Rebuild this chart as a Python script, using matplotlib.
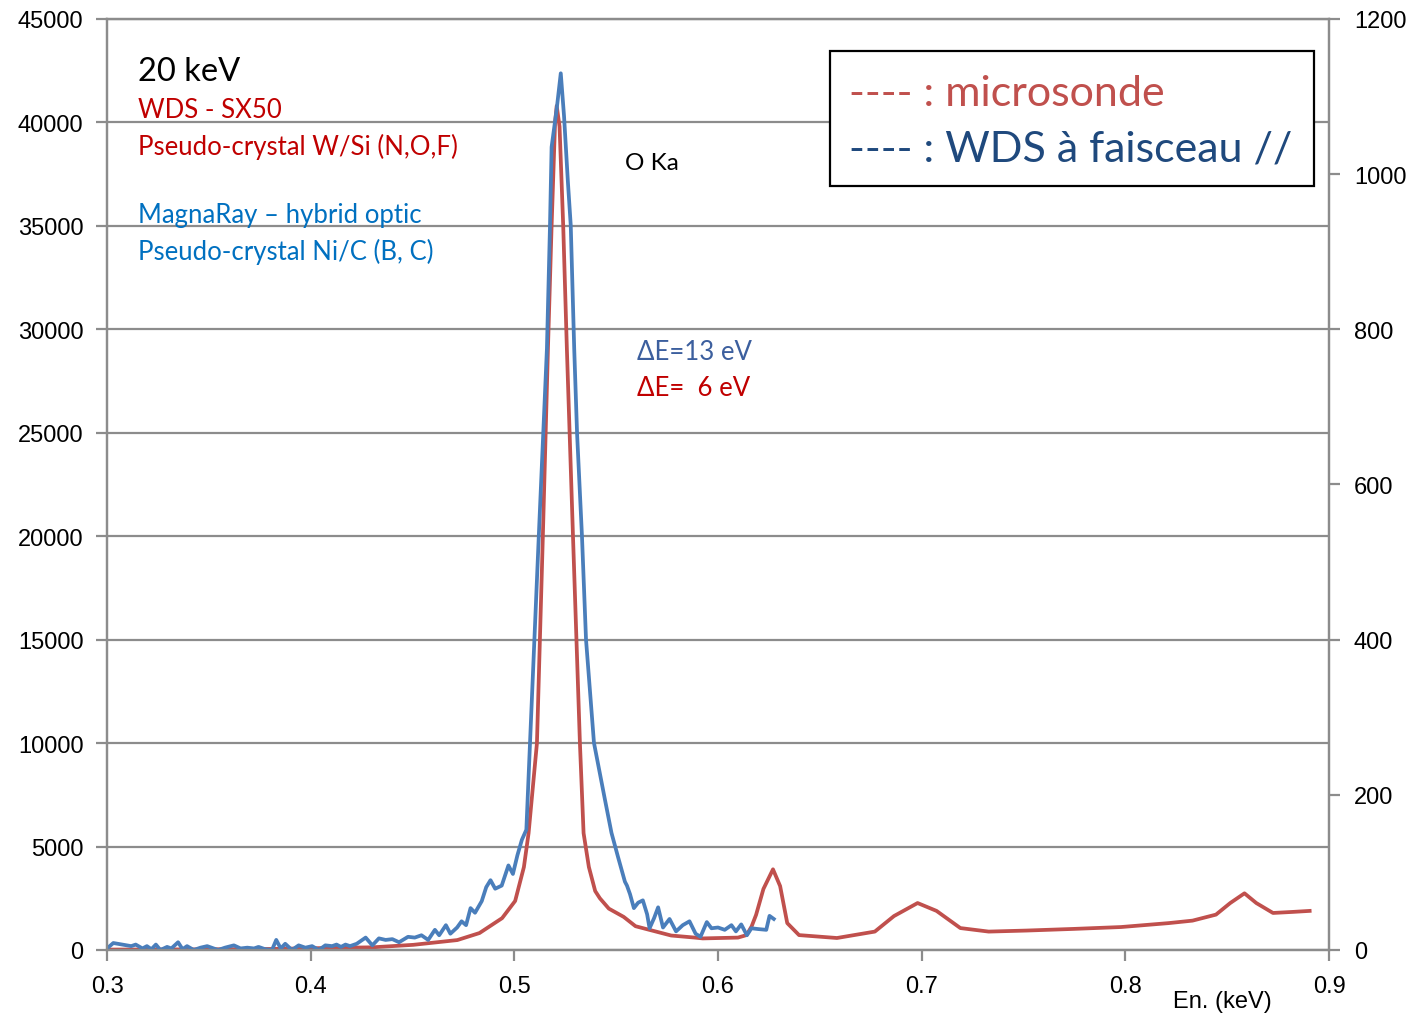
import matplotlib
matplotlib.use("Agg")
import matplotlib.pyplot as plt

# red curve: microsonde WDS SX50 (left axis, counts)
red_kev = [0.300, 0.340, 0.380, 0.410, 0.4305, 0.4504, 0.472, 0.4829, 0.494, 0.5004,
           0.5047, 0.507, 0.5111, 0.514, 0.5165, 0.5183, 0.5200, 0.5208, 0.5222, 0.524,
           0.5258, 0.5288, 0.5322, 0.5340, 0.5366, 0.5397, 0.5420, 0.5464, 0.5537, 0.5595,
           0.5653, 0.577, 0.5886, 0.5925, 0.6098, 0.614, 0.6165, 0.6187, 0.6223, 0.627,
           0.6305, 0.634, 0.6398, 0.6584, 0.677, 0.6864, 0.698, 0.7073, 0.719, 0.7329,
           0.7515, 0.7748, 0.7979, 0.8213, 0.833, 0.8445, 0.8515, 0.8585, 0.8643, 0.8725,
           0.882, 0.8905]
red_cts = [20, 30, 50, 100, 130, 250, 480, 820, 1540, 2370,
           4010, 5650, 10000, 20000, 29050, 35000, 40000, 40800, 39800, 35000,
           29050, 20000, 10000, 5650, 4010, 2850, 2500, 2000, 1600, 1150,
           1000, 700, 600, 560, 600, 720, 1140, 1700, 2950, 3900,
           3090, 1300, 720, 580, 890, 1640, 2270, 1890, 1060, 890,
           940, 1020, 1110, 1300, 1420, 1710, 2270, 2740, 2270, 1790,
           1840, 1890]

# blue curve: MagnaRay parallel beam WDS (right axis, counts)
blue_kev = [0.3000, 0.3031, 0.3075, 0.3119, 0.3141, 0.3174, 0.3196, 0.3218, 0.3240, 0.3262,
            0.3295, 0.3316, 0.3349, 0.3371, 0.3393, 0.3426, 0.3459, 0.3492, 0.3524, 0.3546,
            0.3579, 0.3623, 0.3656, 0.3689, 0.3722, 0.3744, 0.3777, 0.3810, 0.3831, 0.3853,
            0.3875, 0.3908, 0.3941, 0.3974, 0.4007, 0.4040, 0.4072, 0.4105, 0.4127, 0.4149,
            0.4171, 0.4193, 0.4226, 0.4270, 0.4303, 0.4335, 0.4368, 0.4401, 0.4434, 0.4478,
            0.4511, 0.4544, 0.4577, 0.4610, 0.4631, 0.4664, 0.4686, 0.4719, 0.4741, 0.4763,
            0.4785, 0.4807, 0.4840, 0.4862, 0.4883, 0.4906, 0.4938, 0.4971, 0.4993, 0.5015,
            0.5037, 0.5059, 0.5077, 0.5120, 0.5160, 0.5175, 0.5183, 0.5208, 0.5228, 0.5244,
            0.5263, 0.5277, 0.5294, 0.5308, 0.5332, 0.5352, 0.5391, 0.5444, 0.5477, 0.5509,
            0.5543, 0.5553, 0.5568, 0.5587, 0.5608, 0.5631, 0.5652, 0.5664, 0.5686, 0.5706,
            0.5730, 0.5762, 0.5794, 0.5827, 0.5860, 0.5890, 0.5914, 0.5945, 0.5968, 0.6000,
            0.6033, 0.6066, 0.6088, 0.6114, 0.6142, 0.6164, 0.6197, 0.6237, 0.6253, 0.6274]
blue_cts = [2, 9, 7, 5, 7, 2, 5, 1, 7, 0,
            4, 2, 10, 1, 5, 0, 3, 5, 2, 0,
            3, 6, 2, 3, 2, 4, 1, 0, 13, 2,
            8, 0, 6, 3, 5, 0, 6, 5, 7, 4,
            7, 5, 8, 16, 6, 15, 13, 14, 10, 17,
            16, 19, 13, 26, 19, 32, 21, 29, 37, 32,
            54, 48, 63, 81, 90, 79, 83, 109, 98, 122,
            142, 155, 267, 533, 775, 933, 1035, 1084, 1130, 1075,
            990, 934, 775, 666, 534, 400, 267, 195, 151, 120,
            88, 83, 72, 54, 61, 64, 46, 28, 41, 55,
            29, 40, 24, 32, 37, 21, 17, 36, 28, 29,
            26, 32, 24, 33, 19, 28, 27, 26, 44, 40]

left_ticks = [0, 5000, 10000, 15000, 20000, 25000, 30000, 35000, 40000, 45000]
right_ticks = [0, 200, 400, 600, 800, 1000, 1200]
x_ticks = [0.3, 0.4, 0.5, 0.6, 0.7, 0.8, 0.9]

W, H = 1413, 1020
fig = plt.figure(figsize=(W / 100, H / 100), dpi=100)
ax = fig.add_axes([107 / W, 1 - 951 / H, (1329 - 107) / W, (951 - 20) / H])
ax2 = ax.twinx()

grey = "#8c8c8c"
ax.plot(red_kev, red_cts, color="#c0504d", lw=2.7, solid_joinstyle="round")
ax2.plot(blue_kev, blue_cts, color="#4a7ebb", lw=2.7, solid_joinstyle="round")

ax.set_xlim(0.3, 0.9)
ax.set_ylim(0, 45000)
ax2.set_ylim(0, 1200)
ax.set_xticks(x_ticks)
ax.set_xticklabels([str(t) for t in x_ticks])
ax.set_yticks(left_ticks)
ax2.set_yticks(right_ticks)

ax.yaxis.grid(True, color=grey, lw=1.6)
ax.set_axisbelow(True)
for a in (ax, ax2):
    for s in a.spines.values():
        s.set_color(grey)
        s.set_linewidth(1.6)
    a.tick_params(colors=grey, width=1.6, length=8, labelcolor="black",
                  labelsize=17)
    for lab in a.get_xticklabels() + a.get_yticklabels():
        lab.set_family("Liberation Sans")
ax.tick_params(axis="x", pad=10)
ax.tick_params(axis="y", pad=9)
ax2.tick_params(axis="y", pad=10)


def px(x, y):
    return x / W, 1 - y / H


calibri = "Lato"
fig.text(*px(138, 72), "20 keV", fontsize=23.5, family=calibri, va="center", color="black")
fig.text(*px(138, 111), "WDS - SX50", fontsize=18.5, family=calibri, va="center", color="#c00000")
fig.text(*px(138, 147), "Pseudo-crystal W/Si (N,O,F)", fontsize=18.5, family=calibri, va="center", color="#c00000")
fig.text(*px(138, 216), "MagnaRay \u2013 hybrid optic", fontsize=18.5, family=calibri, va="center", color="#0070c0")
fig.text(*px(138, 252), "Pseudo-crystal Ni/C (B, C)", fontsize=18.5, family=calibri, va="center", color="#0070c0")
fig.text(*px(625, 163), "O Ka", fontsize=17.5, family=calibri, va="center", color="black")
fig.text(*px(637, 353), "\u0394E=13 eV", fontsize=18.5, family=calibri, va="center", color="#3c5f9e")
fig.text(*px(637, 389), "\u0394E=  6 eV", fontsize=18.5, family=calibri, va="center", color="#c00000")

fig.text(*px(1222, 1002), "En. (keV)", fontsize=17, family="Liberation Sans", ha="center",
         va="center", color="black")

box = plt.Rectangle(px(830, 187), (1314 - 830) / W, (187 - 52) / H, transform=fig.transFigure,
                    facecolor="white", edgecolor="black", lw=1.6, zorder=5)
fig.patches.append(box)
fig.text(*px(849, 94), "---- : microsonde", fontsize=31, family=calibri, va="center",
         color="#c0504d", zorder=6)
fig.text(*px(849, 150), "---- : WDS \u00e0 faisceau //", fontsize=31, family=calibri, va="center",
         color="#1f497d", zorder=6)

fig.savefig("out.png", dpi=100)
